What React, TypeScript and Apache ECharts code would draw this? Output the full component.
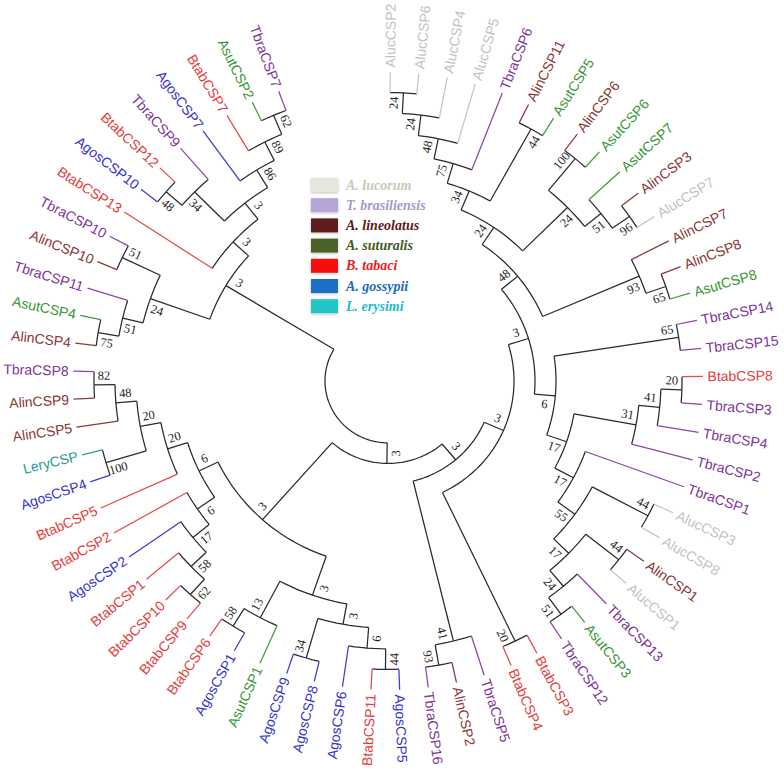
import React, { useEffect, useRef } from "react";
import * as echarts from "echarts";

// ---------------- data ----------------
// leaves, clockwise from the top
const leafNames = [
  "AlucCSP2", "AlucCSP6", "AlucCSP4", "AlucCSP5", "TbraCSP6", "AlinCSP11", "AsutCSP5", "AlinCSP6", "AsutCSP6", "AsutCSP7",
  "AlinCSP3", "AlucCSP7", "AlinCSP7", "AlinCSP8", "AsutCSP8", "TbraCSP14", "TbraCSP15", "BtabCSP8", "TbraCSP3", "TbraCSP4",
  "TbraCSP2", "TbraCSP1", "AlucCSP3", "AlucCSP8", "AlinCSP1", "AlucCSP1", "TbraCSP13", "AsutCSP3", "TbraCSP12", "BtabCSP3",
  "BtabCSP4", "TbraCSP5", "AlinCSP2", "TbraCSP16", "AgosCSP5", "BtabCSP11", "AgosCSP6", "AgosCSP8", "AgosCSP9", "AsutCSP1",
  "AgosCSP1", "BtabCSP6", "BtabCSP9", "BtabCSP10", "BtabCSP1", "AgosCSP2", "BtabCSP2", "BtabCSP5", "AgosCSP4", "LeryCSP",
  "AlinCSP5", "AlinCSP9", "TbraCSP8", "AlinCSP4", "AsutCSP4", "TbraCSP11", "AlinCSP10", "TbraCSP10", "BtabCSP13", "AgosCSP10",
  "BtabCSP12", "TbraCSP9", "AgosCSP7", "BtabCSP7", "AsutCSP2", "TbraCSP7",
];

// internal nodes (post-order)
const cladeNames = [
  "A1", "A2", "A3", "A4", "B1", "A5", "C1", "C2", "C3", "C4", "C5", "D0", "D1", "N48",
  "E1", "F1", "F2", "F3", "G1", "G2", "G3", "G4", "G5", "G6", "G7", "G8", "G9", "R5",
  "H1", "R4", "I1", "I2", "R3",
  "J1", "J2", "J3", "J4", "K1", "K2", "K3", "N1", "N2", "N3", "N4", "M3", "M1", "M2", "M4", "M5", "M6", "BL", "R2",
  "P2", "P3", "P1", "P4", "Q4", "Q5", "Q1", "Q2", "Q3", "Q6", "Q7", "UL", "ROOT",
];
const cladeChildren: [string, string][] = [
  ["AlucCSP2", "AlucCSP6"], ["A1", "AlucCSP4"], ["A2", "AlucCSP5"], ["A3", "TbraCSP6"], ["AlinCSP11", "AsutCSP5"],
  ["A4", "B1"], ["AlinCSP6", "AsutCSP6"], ["AlinCSP3", "AlucCSP7"], ["AsutCSP7", "C2"], ["C1", "C3"], ["A5", "C4"],
  ["AlinCSP8", "AsutCSP8"], ["AlinCSP7", "D0"], ["C5", "D1"],
  ["TbraCSP14", "TbraCSP15"], ["BtabCSP8", "TbraCSP3"], ["F1", "TbraCSP4"], ["F2", "TbraCSP2"], ["AlucCSP3", "AlucCSP8"],
  ["AlinCSP1", "AlucCSP1"], ["AsutCSP3", "TbraCSP12"], ["TbraCSP13", "G3"], ["G2", "G4"], ["G1", "G5"], ["TbraCSP1", "G6"],
  ["F3", "G7"], ["E1", "G8"], ["N48", "G9"],
  ["BtabCSP3", "BtabCSP4"], ["R5", "H1"], ["AlinCSP2", "TbraCSP16"], ["TbraCSP5", "I1"], ["R4", "I2"],
  ["AgosCSP5", "BtabCSP11"], ["J1", "AgosCSP6"], ["AgosCSP8", "AgosCSP9"], ["J2", "J3"], ["AgosCSP1", "BtabCSP6"],
  ["AsutCSP1", "K1"], ["J4", "K2"], ["BtabCSP9", "BtabCSP10"], ["N1", "BtabCSP1"], ["N2", "AgosCSP2"], ["N3", "BtabCSP2"],
  ["AgosCSP4", "LeryCSP"], ["AlinCSP9", "TbraCSP8"], ["AlinCSP5", "M1"], ["M3", "M2"], ["BtabCSP5", "M4"], ["N4", "M5"],
  ["K3", "M6"], ["R3", "BL"],
  ["AlinCSP4", "AsutCSP4"], ["P2", "TbraCSP11"], ["AlinCSP10", "TbraCSP10"], ["P3", "P1"], ["AgosCSP10", "BtabCSP12"],
  ["Q4", "TbraCSP9"], ["AsutCSP2", "TbraCSP7"], ["BtabCSP7", "Q1"], ["AgosCSP7", "Q2"], ["Q5", "Q3"], ["BtabCSP13", "Q6"],
  ["P4", "Q7"], ["R2", "UL"],
];
const cladeSupport: (number | null)[] = [
  24, 24, 48, 75, 44, 34, 100, 96, 51, 24, 24, 65, 93, 48,
  65, 20, 41, 31, 44, 44, 51, 24, 17, 55, 17, 17, 6, 3,
  20, 3, 93, 41, 3,
  44, 6, 34, 3, 58, 13, 3, 62, 58, 17, 6, 100, 82, 48, 20, 20, 6, 3, 3,
  75, 51, 51, 24, 48, 34, 62, 89, 86, 3, 3, 3, null,
];

const speciesPrefixes = ["Aluc", "Tbra", "Alin", "Asut", "Btab", "Agos", "Lery"];
const speciesNames = ["A. lucorum", "T. brasiliensis", "A. lineolatus", "A. suturalis", "B. tabaci", "A. gossypii", "L. erysimi"];
const branchColors = ["#c4c4c4", "#8e44a8", "#8a3a3a", "#3f9a3f", "#e8484a", "#3a3ad2", "#2a9d8f"];
const labelColors = ["#c2c2c2", "#7d3597", "#8a3636", "#379637", "#e43c3c", "#3434cc", "#2a9a8a"];
const swatchColors = ["#e7e7df", "#b4a6d6", "#5e1c1c", "#4b6329", "#f80f0f", "#1a6fc4", "#22c4c8"];
const legendTextColors = ["#c8c8b4", "#a898c8", "#5a1a1a", "#3f5a22", "#e81c1c", "#1a6cb8", "#1fbcc8"];

// ---------------- layout helpers ----------------
const LEAF_LEVEL = 15;
const ANGLE0 = 0.4;
const STEP = 5.22;
const RANGE = 18;

type Info = { angle: number; height: number; level: number; leaf: boolean; sp: number };

function speciesOf(name: string) {
  return speciesPrefixes.findIndex((p) => name.startsWith(p));
}

function layout() {
  const info: Record<string, Info> = {};
  leafNames.forEach((n, i) => {
    info[n] = { angle: ANGLE0 + i * STEP, height: 0, level: LEAF_LEVEL, leaf: true, sp: speciesOf(n) };
  });
  const side: Record<string, number> = {};
  cladeNames.forEach((id, k) => {
    const [a, b] = cladeChildren[k];
    const h = Math.max(info[a].height, info[b].height) + 1;
    info[id] = { angle: (info[a].angle + info[b].angle) / 2, height: h, level: LEAF_LEVEL - h, leaf: false, sp: -1 };
    side[a] = 1;
    side[b] = -1;
  });
  const arcs: number[][] = [];
  const radials: number[][] = [];
  const supports: number[][] = [];
  cladeNames.forEach((id, k) => {
    const n = info[id];
    const [a, b] = cladeChildren[k];
    arcs.push([n.level, info[a].angle, info[b].angle]);
    [a, b].forEach((c) => {
      radials.push([info[c].angle, n.level, info[c].level, info[c].sp]);
    });
    if (cladeSupport[k] !== null) supports.push([n.angle, n.level, side[id] || 1, cladeSupport[k] as number]);
  });
  const leaves = leafNames.map((n) => [info[n].angle, info[n].sp]);
  return { arcs, radials, supports, leaves };
}

const toXY = (lvl: number, deg: number) => {
  const r = (deg * Math.PI) / 180;
  return [lvl * Math.sin(r), lvl * Math.cos(r)];
};

function unit(a: number[], b: number[]) {
  let dx = b[0] - a[0];
  let dy = b[1] - a[1];
  const L = Math.hypot(dx, dy) || 1;
  return [dx / L, dy / L];
}

function buildOption() {
  const { arcs, radials, supports, leaves } = layout();
  const pxX = 315 / LEAF_LEVEL;
  const pxY = 309 / LEAF_LEVEL;
  const cx = 388;
  const cy = 381;
  const lineW = 1.25;

  return {
    animation: false,
    backgroundColor: "#ffffff",
    grid: {
      left: cx - pxX * RANGE,
      top: cy - pxY * RANGE,
      width: 2 * pxX * RANGE,
      height: 2 * pxY * RANGE,
    },
    xAxis: { type: "value", min: -RANGE, max: RANGE, show: false },
    yAxis: { type: "value", min: -RANGE, max: RANGE, show: false },
    graphic: speciesNames.flatMap((name, k) => [
      {
        type: "rect",
        shape: { x: 311, y: 185 + k * 20.2 - 7, width: 27, height: 14 },
        style: { fill: swatchColors[k], shadowBlur: 3, shadowColor: "rgba(0,0,0,0.25)", shadowOffsetY: 1 },
      },
      {
        type: "text",
        x: 346,
        y: 185 + k * 20.2,
        style: {
          text: name,
          font: 'italic bold 14px "Liberation Serif", "Times New Roman", serif',
          fill: legendTextColors[k],
          verticalAlign: "middle",
          textVerticalAlign: "middle",
        },
      },
    ]),
    series: [
      {
        type: "custom",
        coordinateSystem: "cartesian2d",
        silent: true,
        clip: false,
        data: arcs,
        renderItem: (params: any, api: any) => {
          const lvl = api.value(0);
          const a0 = api.value(1);
          const a1 = api.value(2);
          const n = Math.max(2, Math.ceil(Math.abs(a1 - a0) / 1.5));
          const pts = [];
          for (let i = 0; i <= n; i++) pts.push(api.coord(toXY(lvl, a0 + ((a1 - a0) * i) / n)));
          return { type: "polyline", shape: { points: pts }, style: { stroke: "#2a2a2a", lineWidth: lineW, fill: "none" } };
        },
      },
      {
        type: "custom",
        coordinateSystem: "cartesian2d",
        silent: true,
        clip: false,
        data: radials,
        renderItem: (params: any, api: any) => {
          const ang = api.value(0);
          const l0 = api.value(1);
          const l1 = api.value(2);
          const sp = api.value(3);
          const p0 = api.coord(toXY(l0, ang));
          const p1 = api.coord(toXY(l1, ang));
          return {
            type: "line",
            shape: { x1: p0[0], y1: p0[1], x2: p1[0], y2: p1[1] },
            style: { stroke: sp >= 0 ? branchColors[sp] : "#2a2a2a", lineWidth: lineW },
          };
        },
      },
      {
        type: "custom",
        coordinateSystem: "cartesian2d",
        silent: true,
        clip: false,
        data: leaves,
        renderItem: (params: any, api: any) => {
          const ang = api.value(0);
          const sp = api.value(1);
          const p0 = api.coord(toXY(LEAF_LEVEL, ang));
          const p1 = api.coord(toXY(LEAF_LEVEL + 1, ang));
          const [dx, dy] = unit(p0, p1);
          const right = ang < 180;
          const rot = right ? Math.atan2(-dy, dx) : Math.atan2(dy, -dx);
          const align = right ? "left" : "right";
          return {
            type: "text",
            x: p0[0] + dx * 4.5,
            y: p0[1] + dy * 4.5,
            rotation: rot,
            style: {
              text: leafNames[params.dataIndex],
              fill: labelColors[sp],
              font: '14px "Liberation Sans", Arial, sans-serif',
              align,
              textAlign: align,
              verticalAlign: "middle",
              textVerticalAlign: "middle",
            },
          };
        },
      },
      {
        type: "custom",
        coordinateSystem: "cartesian2d",
        silent: true,
        clip: false,
        data: supports,
        renderItem: (params: any, api: any) => {
          const ang = api.value(0);
          const lvl = api.value(1);
          const sd = api.value(2);
          const val = api.value(3);
          const p = api.coord(toXY(lvl, ang));
          const u = unit(p, api.coord(toXY(lvl - 1, ang)));
          const t = unit(p, api.coord(toXY(lvl, ang - sd * 2)));
          const o = unit(p, api.coord(toXY(lvl + 1, ang)));
          const right = ang < 180;
          const rot = right ? Math.atan2(-o[1], o[0]) : Math.atan2(o[1], -o[0]);
          return {
            type: "text",
            x: p[0] + u[0] * 10 + t[0] * 9,
            y: p[1] + u[1] * 10 + t[1] * 9,
            rotation: rot,
            style: {
              text: String(val),
              fill: "#1e1e1e",
              font: '12.5px "Liberation Serif", "Times New Roman", serif',
              align: "center",
              textAlign: "center",
              verticalAlign: "middle",
              textVerticalAlign: "middle",
            },
          };
        },
      },
    ],
  };
}

export default function App() {
  const ref = useRef<HTMLDivElement>(null);
  useEffect(() => {
    if (!ref.current) return;
    const chart = echarts.init(ref.current, undefined, { renderer: "svg" });
    chart.setOption(buildOption() as any);
    return () => chart.dispose();
  }, []);
  return (
    <div
      ref={ref}
      style={{ position: "absolute", left: 0, top: 0, width: 784, height: 773, background: "#ffffff" }}
    />
  );
}
